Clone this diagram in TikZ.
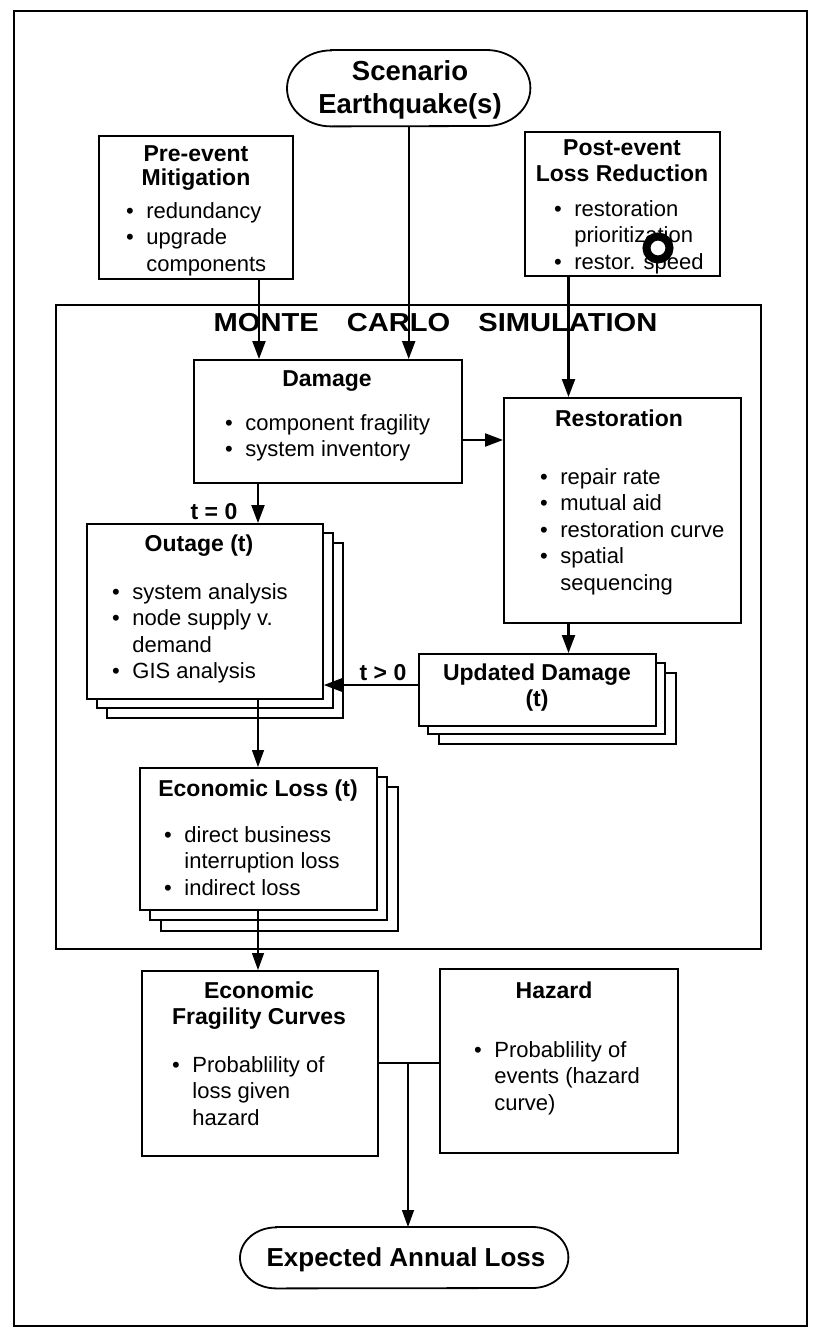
\documentclass[tikz,border=0pt]{standalone}
\usepackage{fontspec}
\setmainfont{Liberation Sans}
\usepackage{graphicx}
\usetikzlibrary{arrows.meta,calc}
\begin{document}
\begin{tikzpicture}[x=1pt,y=-1pt,
  box/.style={draw,line width=1.8pt,fill=white,inner sep=0pt,anchor=north west},
  frame/.style={draw,line width=1.8pt,inner sep=0pt,anchor=north west},
  back/.style={draw,line width=1.4pt,fill=white},
  pillline/.style={line width=1.8pt},
  arr/.style={line width=2.2pt,-{Triangle[length=18pt,width=13pt]}},
  arrthin/.style={line width=1.3pt,-{Triangle[length=17pt,width=12pt]}},
  txt/.style={inner sep=0pt,anchor=base west,font=\fontsize{22}{26.5}\selectfont},
  ttl/.style={inner sep=0pt,anchor=base,font=\fontsize{23}{26}\selectfont\bfseries},
  big/.style={inner sep=0pt,anchor=base,font=\fontsize{27.5}{33}\selectfont\bfseries}]
\useasboundingbox (0,0) rectangle (812,1328);
\fill[white] (0,0) rectangle (812,1328);

% outer frame and Monte Carlo frame
\node[frame,minimum width=793pt,minimum height=1315pt] (outer) at (13,10) {};
\node[frame,minimum width=705pt,minimum height=644pt] (mc) at (55,304) {};
\node[inner sep=0pt,anchor=base,font=\fontsize{26}{30}\selectfont\bfseries] (mcT) at (435.5,331)
  {\scalebox{1.12}[1]{MONTE\hspace{25pt}CARLO\hspace{25pt}SIMULATION}};

% Scenario earthquake(s)
\node[inner sep=0pt,minimum width=243pt,minimum height=76pt,anchor=north west] (scen) at (287,50) {};
\draw[pillline] ($(scen.north west)+(44,0)$) -- ($(scen.north east)+(-44,0)$)
  arc[start angle=-90,end angle=90,x radius=44,y radius=38]
  -- ($(scen.south west)+(44,0)$)
  arc[start angle=90,end angle=270,x radius=44,y radius=38] -- cycle;
\node[big] (scenT) at (410,80) {\begin{tabular}[t]{@{}c@{}}Scenario\\Earthquake(s)\end{tabular}};

% Pre-event
\node[box,minimum width=194pt,minimum height=143pt] (pre) at (98,135) {};
\node[ttl,font=\fontsize{23}{24.5}\selectfont\bfseries] (preT) at (196,161) {\begin{tabular}[t]{@{}c@{}}Pre-event\\Mitigation\end{tabular}};
\node[txt] (preL) at (126,218) {\begin{tabular}[t]{@{}l@{\hspace{12.5pt}}l@{}}\textbullet&redundancy\\\textbullet&upgrade\\&components\end{tabular}};

% Post-event
\node[box,minimum width=195pt,minimum height=144pt] (post) at (524,131) {};
\node[ttl] (postT) at (622,155) {\begin{tabular}[t]{@{}c@{}}Post-event\\Loss Reduction\end{tabular}};
\node[txt] (postL) at (554,216) {\begin{tabular}[t]{@{}l@{\hspace{12.5pt}}l@{}}\textbullet&restoration\\&prioritization\\\textbullet&restor. speed\end{tabular}};

% Damage
\node[box,minimum width=268pt,minimum height=123pt] (dmg) at (193,359) {};
\node[ttl] (dmgT) at (327,386) {Damage};
\node[txt] (dmgL) at (225,430) {\begin{tabular}[t]{@{}l@{\hspace{12.5pt}}l@{}}\textbullet&component fragility\\\textbullet&system inventory\end{tabular}};

% Restoration
\node[box,minimum width=237pt,minimum height=225pt] (rest) at (503,397) {};
\node[ttl] (restT) at (619,426) {Restoration};
\node[txt] (restL) at (540,484) {\begin{tabular}[t]{@{}l@{\hspace{12.5pt}}l@{}}\textbullet&repair rate\\\textbullet&mutual aid\\\textbullet&restoration curve\\\textbullet&spatial\\&sequencing\end{tabular}};

% Outage stack
\draw[back] (107,543) rectangle (343,718);
\draw[back] (97,533) rectangle (333,708);
\node[box,minimum width=236pt,minimum height=175pt] (out) at (86,523) {};
\node[ttl] (outT) at (199,551) {Outage (t)};
\node[txt] (outL) at (112,599) {\begin{tabular}[t]{@{}l@{\hspace{12.5pt}}l@{}}\textbullet&system analysis\\\textbullet&node supply v.\\&demand\\\textbullet&GIS analysis\end{tabular}};

% Updated damage stack
\draw[back] (439,673) rectangle (676,744);
\draw[back] (428,663) rectangle (665,734);
\node[box,minimum width=237pt,minimum height=72pt] (upd) at (418,653) {};
\node[ttl] (updT) at (537,680) {\begin{tabular}[t]{@{}c@{}}Updated Damage\\(t)\end{tabular}};

% Economic loss stack
\draw[back] (161,787) rectangle (398,931);
\draw[back] (150,777) rectangle (387,920);
\node[box,minimum width=237pt,minimum height=142pt] (el) at (139,767) {};
\node[ttl] (elT) at (258,796) {Economic Loss (t)};
\node[txt] (elL) at (164,842) {\begin{tabular}[t]{@{}l@{\hspace{12.5pt}}l@{}}\textbullet&direct business\\&interruption loss\\\textbullet&indirect loss\end{tabular}};

% Economic fragility curves
\node[box,minimum width=236pt,minimum height=185pt] (ef) at (141,970) {};
\node[ttl] (efT) at (259,998) {\begin{tabular}[t]{@{}c@{}}Economic\\Fragility Curves\end{tabular}};
\node[txt] (efL) at (172,1072) {\begin{tabular}[t]{@{}l@{\hspace{12.5pt}}l@{}}\textbullet&Probablility of\\&loss given\\&hazard\end{tabular}};

% Hazard
\node[box,minimum width=238pt,minimum height=184pt] (haz) at (439,968) {};
\node[ttl] (hazT) at (554,998) {Hazard};
\node[txt] (hazL) at (474,1057) {\begin{tabular}[t]{@{}l@{\hspace{12.5pt}}l@{}}\textbullet&Probablility of\\&events (hazard\\&curve)\end{tabular}};

% Expected annual loss
\node[inner sep=0pt,minimum width=328pt,minimum height=61pt,anchor=north west] (eal) at (240,1227) {};
\draw[pillline] ($(eal.north west)+(36,0)$) -- ($(eal.north east)+(-36,0)$)
  arc[start angle=-90,end angle=90,x radius=36,y radius=30.5]
  -- ($(eal.south west)+(36,0)$)
  arc[start angle=90,end angle=270,x radius=36,y radius=30.5] -- cycle;
\node[big,font=\fontsize{26}{30}\selectfont\bfseries] (ealT) at (406,1266) {Expected Annual Loss};

% helper coordinates
\coordinate (xa) at (259,0);
\coordinate (xb) at (258,0);
\coordinate (xr) at (568.5,0);
\coordinate (yd) at (0,440);
\coordinate (yu) at (0,685);
\coordinate (yh) at (0,1063);
\coordinate (jn) at (408,1063);

% connectors
\draw[arr] (scen.south) -- (scen.south |- dmg.north);
\draw[arr] (pre.south -| xa) -- (dmg.north -| xa);
\draw[arr] (post.south -| xr) -- (rest.north -| xr);
\draw[arr] (dmg.east |- yd) -- (rest.west |- yd);
\draw[arr] (dmg.south -| xb) -- (out.north -| xb);
\draw[arr] (rest.south -| xr) -- (upd.north -| xr);
\draw[arr] (upd.west |- yu) -- (out.east |- yu);
\draw[arrthin] (out.south -| xb) -- (el.north -| xb);
\draw[arrthin] (el.south -| xb) -- (ef.north -| xb);
\draw[line width=1.8pt] (ef.east |- yh) -- (haz.west |- yh);
\draw[arrthin] (jn) -- (eal.north -| jn);

% labels
\node[ttl] (t0) at (214,519) {t = 0};
\node[ttl] (t1) at (383,680) {t > 0};

% punched-hole mark on the scan
\draw[line width=8pt,fill=white] (658,248) circle[radius=11.5pt];
\end{tikzpicture}
\end{document}
